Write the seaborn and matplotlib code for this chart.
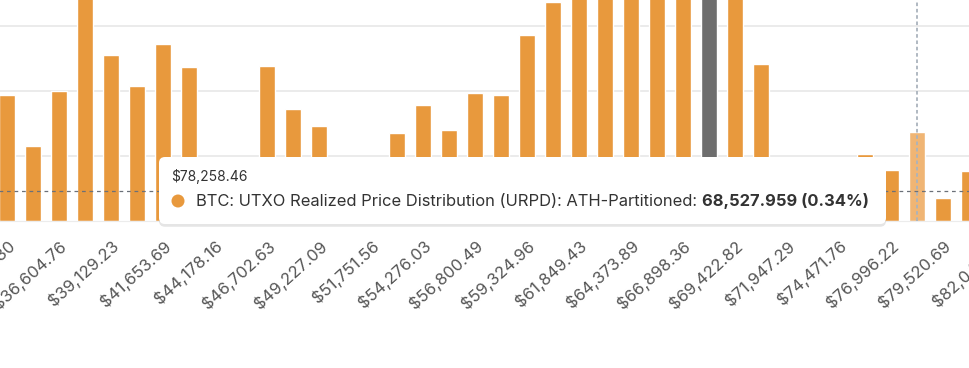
import matplotlib
matplotlib.use("Agg")
import matplotlib.pyplot as plt
import matplotlib.patheffects as pe
from matplotlib.patches import FancyBboxPatch, Circle
from matplotlib.transforms import IdentityTransform
import seaborn as sns
import pandas as pd

# URPD: BTC held per realized-price bucket (bars above the top are clipped)
btc_supply = [97000, 57700, 100100, 250000, 127800, 104000, 136300, 118600, 30000, 20000,
              119400, 86200, 73200, 25000, 15000, 67800, 89300, 70100, 98600, 97000,
              143200, 168600, 260000, 310000, 290000, 340000, 280000, 300000, 230000, 120900,
              10000, 5000, 20000, 51600, 39300, 68528, 17700, 38500]
current_bin = 27   # bucket holding the current price (grey bar)
hover_bin = 35     # bucket under the cursor

tick_labels = ["$34,080.30", "$36,604.76", "$39,129.23", "$41,653.69", "$44,178.16",
               "$46,702.63", "$49,227.09", "$51,751.56", "$54,276.03", "$56,800.49",
               "$59,324.96", "$61,849.43", "$64,373.89", "$66,898.36", "$69,422.82",
               "$71,947.29", "$74,471.76", "$76,996.22", "$79,520.69", "$82,045.16"]
grid_levels = [50000, 100000, 150000]
cursor_btc = 22800

tip_price = "$78,258.46"
tip_series = "BTC: UTXO Realized Price Distribution (URPD): ATH-Partitioned:"
tip_value = "68,527.959 (0.34%)"

ORANGE = "#e8993d"
colors = {"normal": ORANGE, "current": "#6e6e6e", "hover": "#f0b574"}

df = pd.DataFrame({"bin": range(len(btc_supply)), "btc": btc_supply})
df["kind"] = "normal"
df.loc[current_bin, "kind"] = "current"
df.loc[hover_bin, "kind"] = "hover"

sns.set_style("white")
plt.rcParams["font.family"] = ["Inter", "DejaVu Sans"]

W, H = 970, 368
fig = plt.figure(figsize=(W / 100, H / 100), dpi=100)
# axes is wider than the figure: the chart is a crop of a larger one
ax = fig.add_axes([-6 / W, 147 / H, 1014 / W, 221 / H])

sns.barplot(data=df, x="bin", y="btc", hue="kind", palette=colors, width=0.615,
            dodge=False, legend=False, saturation=1, ax=ax, zorder=2)

ax.set_xlim(-0.5, 38.5)
ax.set_ylim(0, 170000)
for g in grid_levels:
    ax.axhline(g, color="#e9e9e9", lw=1.3, zorder=0)

ax.set_xticks(range(0, 2 * len(tick_labels), 2))
ax.set_xticklabels(tick_labels)
ax.tick_params(axis="x", length=10, width=1.1, color="#e6e6e6", pad=2,
               labelsize=12, labelcolor="#555555")
for lab in ax.get_xticklabels():
    lab.set_rotation(42)
    lab.set_ha("right")
    lab.set_rotation_mode("anchor")
ax.set_yticks([])
ax.set_xlabel("")
ax.set_ylabel("")
for s in ["top", "left", "right"]:
    ax.spines[s].set_visible(False)
ax.spines["bottom"].set_color("#ececec")

# crosshair
ax.axvline(hover_bin, color="#aab3bd", lw=1.3, ls=(0, (2, 1.5)), zorder=3)
ax.axhline(cursor_btc, color="#6b7078", lw=0.9, ls=(0, (3, 3)), zorder=3)

# tooltip (pixel coordinates, origin bottom-left)
px = IdentityTransform()
box = FancyBboxPatch((159, H - 224), 727, 67, boxstyle="round,pad=0,rounding_size=6",
                     transform=px, facecolor="white", edgecolor="none", zorder=10,
                     path_effects=[pe.SimplePatchShadow(offset=(0, -2), shadow_rgbFace="k",
                                                        alpha=0.10), pe.Normal()])
fig.patches.append(box)
fig.patches.append(Circle((178, H - 201), 6.5, transform=px, facecolor=ORANGE,
                          edgecolor="none", zorder=11))
fig.text(171 / W, (H - 177) / H, tip_price, va="center", fontsize=10, color="#333333",
         zorder=11)
t = fig.text(196 / W, (H - 201) / H, tip_series, va="center", fontsize=11.9,
             color="#333333", zorder=11)
fig.canvas.draw()
x_end = t.get_window_extent(fig.canvas.get_renderer()).x1
fig.text((x_end + 5) / W, (H - 201) / H, tip_value, va="center", fontsize=11.9,
         fontweight="bold", color="#333333", zorder=11)

plt.savefig("out.png", dpi=100)
plt.close()
